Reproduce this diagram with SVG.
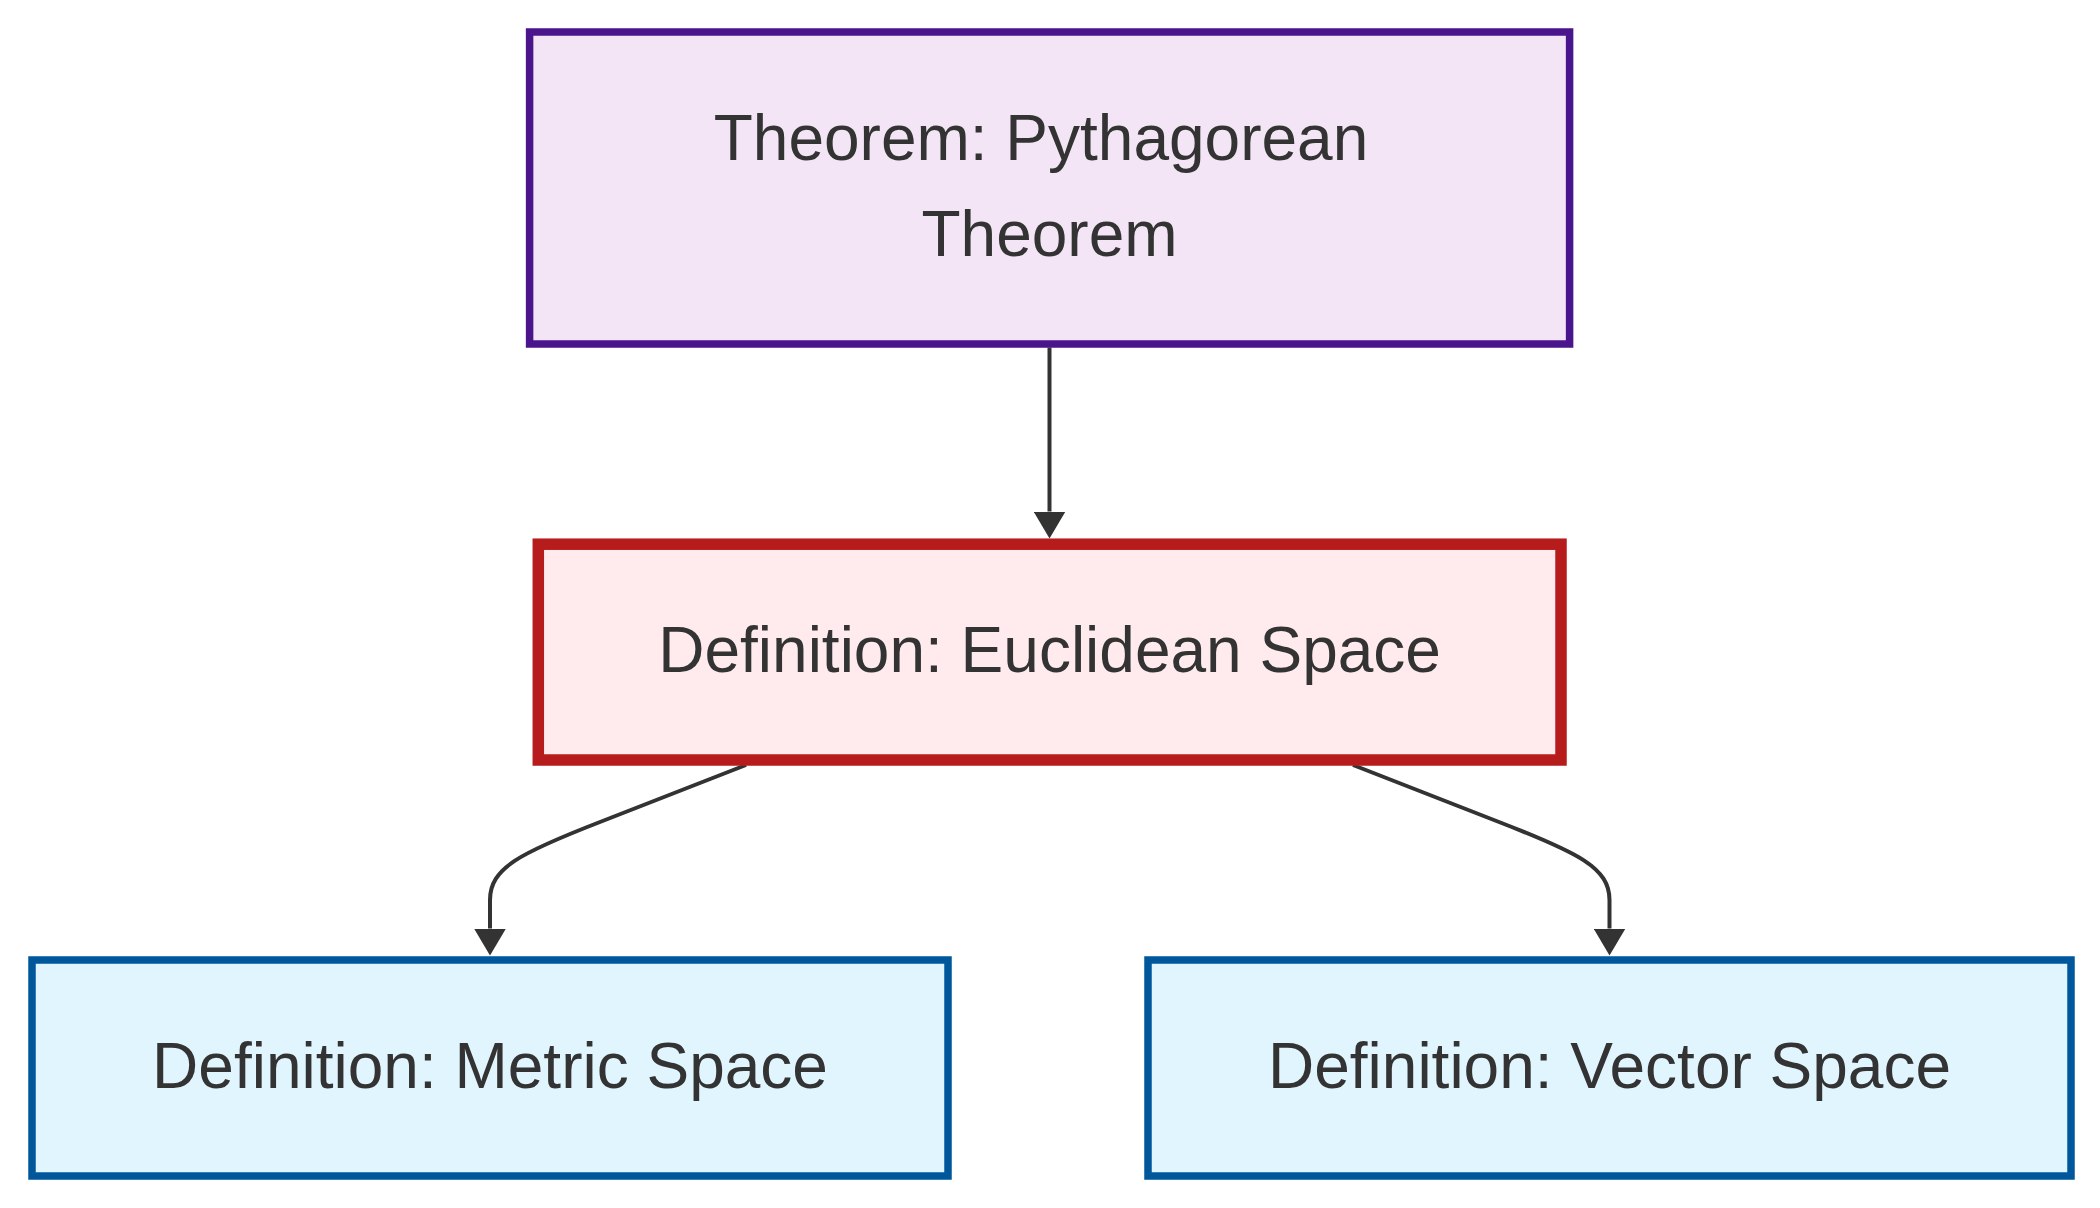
<svg xmlns="http://www.w3.org/2000/svg" width="2100" height="1208" viewBox="0 0 2100 1208">
  <style>
    .lbl { font-family: "Liberation Sans", Arial, sans-serif; font-size: 64px; fill: #333333; text-anchor: middle; }
    .thm { fill: #F3E5F5; stroke: #4A148C; stroke-width: 7.5; }
    .key { fill: #FFEBEE; stroke: #B71C1C; stroke-width: 11.5; }
    .def { fill: #E1F5FE; stroke: #01579B; stroke-width: 7.5; }
    .edge { fill: none; stroke: #333333; stroke-width: 4; }
  </style>
  <defs>
    <marker id="arrow" markerUnits="userSpaceOnUse" viewBox="0 0 27 32" refX="0" refY="16" markerWidth="27" markerHeight="32" orient="auto">
      <path d="M0,0 L27,16 L0,32 z" fill="#333333"/>
    </marker>
  </defs>
  <rect width="2100" height="1208" fill="#ffffff"/>
  <g id="connectors">
    <path class="edge" d="M1049.5,347.5 L1049.5,511.5" marker-end="url(#arrow)"/>
    <path class="edge" d="M746,765 L600,822 C520,853 490,868 490,900 L490,928.5" marker-end="url(#arrow)"/>
    <path class="edge" d="M1353,765 L1499,822 C1579,853 1609.5,868 1609.5,900 L1609.5,928.5" marker-end="url(#arrow)"/>
  </g>
  <g id="pythagorean">
    <rect class="thm" x="529.6" y="32" width="1040" height="312"/>
    <text class="lbl" x="1041" y="160">Theorem: Pythagorean</text>
    <text class="lbl" x="1049.5" y="256">Theorem</text>
  </g>
  <g id="euclidean">
    <rect class="key" x="538.3" y="544.2" width="1022.7" height="215.8"/>
    <text class="lbl" x="1049.6" y="672">Definition: Euclidean Space</text>
  </g>
  <g id="metric">
    <rect class="def" x="32" y="960" width="916" height="216"/>
    <text class="lbl" x="490" y="1088">Definition: Metric Space</text>
  </g>
  <g id="vector">
    <rect class="def" x="1148" y="960" width="923" height="216"/>
    <text class="lbl" x="1609.5" y="1088">Definition: Vector Space</text>
  </g>
</svg>
